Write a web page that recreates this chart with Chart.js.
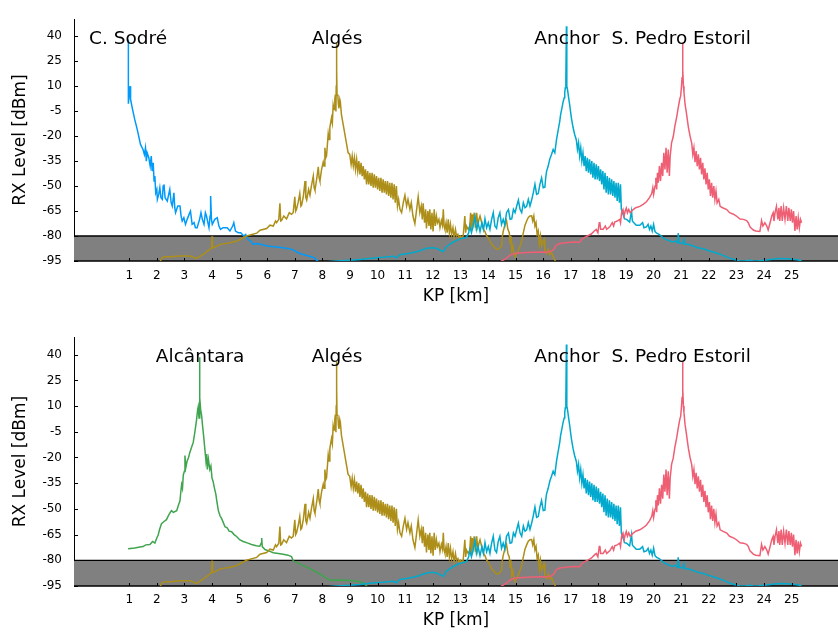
<!DOCTYPE html>
<html>
<head>
<meta charset="utf-8">
<title>RX Level vs KP</title>
<script src="https://cdn.jsdelivr.net/npm/chart.js@4.4.1/dist/chart.umd.min.js"></script>
<style>
  body { margin: 0; background: #fff; }
  .panel { position: absolute; left: 0; width: 838px; }
  #panelTop { top: 0; height: 318px; }
  #panelBottom { top: 318px; height: 317px; }
</style>
</head>
<body>
<div class="panel" id="panelTop"><canvas id="chartTop" width="838" height="318"></canvas></div>
<div class="panel" id="panelBottom"><canvas id="chartBottom" width="838" height="317"></canvas></div>
<script>
(function() {
  'use strict';

  // Axis ticks
  const kmTicks = [1, 2, 3, 4, 5, 6, 7, 8, 9, 10, 11, 12, 13, 14, 15, 16, 17, 18, 19, 20, 21, 22, 23, 24, 25];
  const dbmTicks = [-95, -80, -65, -50, -35, -20, -5, 10, 25, 40];

  // Sensitivity band (grey area)
  const bandTop = -80;
  const bandBottom = -95;

  // Station labels
  const topStations = ['C. Sodré', 'Algés', 'Anchor', 'S. Pedro Estoril'];
  const topStationKm = [0.96, 8.53, 16.86, 21.0];
  const bottomStations = ['Alcântara', 'Algés', 'Anchor', 'S. Pedro Estoril'];
  const bottomStationKm = [3.57, 8.53, 16.86, 21.0];

  // [KP km, RX dBm]
  const cSodre = [[0.97,38],[0.97,-0.5],[1.0,5],[1.03,10],[1.05,2],[1.11,-3],[1.2,-10],[1.29,-16],[1.41,-25],[1.5,-28],[1.55,-31],[1.59,-27],[1.62,-35],[1.65,-30],[1.71,-33],[1.76,-38],[1.8,-32],[1.83,-41],[1.87,-36],[1.9,-47],[1.93,-44],[1.96,-54],[2.0,-52],[2.02,-58],[2.07,-55],[2.11,-51],[2.15,-57],[2.2,-58],[2.23,-50],[2.26,-49],[2.3,-57],[2.38,-59],[2.43,-55],[2.47,-52],[2.52,-60],[2.56,-62],[2.62,-54],[2.65,-63],[2.68,-66],[2.76,-62],[2.84,-62],[2.88,-68],[2.92,-71],[2.98,-69],[3.04,-73],[3.1,-70],[3.17,-67],[3.22,-65],[3.28,-73],[3.35,-72],[3.4,-75],[3.46,-75],[3.55,-70],[3.6,-66],[3.65,-70],[3.71,-73],[3.76,-66],[3.8,-68],[3.85,-72],[3.89,-75],[3.93,-68],[3.95,-56],[3.98,-70],[4.01,-73],[4.1,-70],[4.19,-69],[4.25,-74],[4.31,-76],[4.4,-75],[4.55,-75],[4.65,-77],[4.75,-74],[4.79,-72],[4.85,-77],[4.95,-78],[5.04,-78],[5.15,-80],[5.22,-79],[5.3,-82],[5.4,-83],[5.49,-85],[5.6,-84.5],[5.76,-85],[6.0,-86],[6.24,-86.5],[6.58,-87],[6.9,-88],[7.18,-90.5],[7.5,-92],[7.7,-93],[7.85,-95.4],[7.95,-96]];

  const alcantara = [[0.96,-73.3],[1.2,-72.8],[1.39,-72.2],[1.5,-72],[1.6,-71],[1.75,-70.8],[1.85,-69],[1.93,-69.9],[2.0,-67],[2.05,-65.2],[2.1,-62],[2.17,-58.6],[2.25,-57.5],[2.35,-56.3],[2.45,-53],[2.53,-51],[2.6,-52],[2.72,-51],[2.78,-48],[2.84,-45.3],[2.87,-40],[2.9,-35.9],[2.93,-38],[2.96,-30.2],[3.0,-28],[3.02,-18.8],[3.05,-26],[3.1,-22],[3.15,-20],[3.2,-16.9],[3.26,-14],[3.32,-11.2],[3.38,-5],[3.44,2],[3.48,8],[3.5,9.6],[3.53,3],[3.55,38.5],[3.56,15],[3.59,7.7],[3.62,5],[3.66,-1.8],[3.7,-8],[3.74,-15],[3.78,-22],[3.81,-18],[3.83,-27],[3.87,-21],[3.92,-27],[3.96,-25],[4.0,-32],[4.04,-34],[4.09,-38],[4.14,-41.5],[4.18,-46],[4.23,-51],[4.29,-54],[4.35,-55.7],[4.41,-58],[4.47,-60.4],[4.55,-61],[4.62,-63],[4.71,-63.3],[4.8,-65],[4.89,-66.1],[5.0,-68],[5.13,-69],[5.3,-70],[5.43,-70.8],[5.6,-71.5],[5.73,-71.8],[5.78,-70],[5.8,-67],[5.82,-72],[5.92,-73.7],[6.1,-74.8],[6.22,-75.6],[6.4,-76],[6.58,-76.5],[6.75,-77],[6.88,-77.8],[6.94,-80.3],[7.1,-81.5],[7.31,-83.1],[7.5,-84.5],[7.67,-85.9],[7.91,-88],[8.1,-90],[8.27,-91.6],[8.5,-91.5],[8.87,-91.6],[9.1,-92],[9.36,-92.5],[9.5,-93.5],[9.6,-95],[9.7,-96]];

  const alges = [[2.11,-95.5],[2.2,-93],[2.29,-92.5],[2.5,-92.5],[2.84,-92],[3.2,-92],[3.44,-93.5],[3.68,-91],[3.92,-88],[3.99,-87],[4.0,-80.2],[4.02,-87],[4.06,-87],[4.3,-85],[4.65,-84],[4.9,-83],[5.25,-80],[5.62,-78.3],[5.74,-76.5],[5.98,-75.5],[6.1,-73.5],[6.22,-74],[6.3,-71],[6.34,-72],[6.42,-70],[6.46,-60.3],[6.49,-71],[6.52,-70.7],[6.6,-68],[6.7,-69.7],[6.8,-66],[6.88,-67],[6.94,-66],[7.0,-56.4],[7.03,-65],[7.06,-64],[7.12,-60],[7.18,-54.5],[7.22,-62],[7.25,-61.3],[7.31,-56],[7.37,-47],[7.4,-57],[7.43,-58.4],[7.5,-52],[7.55,-55.5],[7.6,-50],[7.67,-44],[7.7,-51],[7.73,-52.6],[7.8,-45],[7.85,-38.4],[7.88,-45],[7.91,-47],[7.97,-40],[8.03,-35.6],[8.06,-38],[8.09,-27],[8.12,-33],[8.15,-31.8],[8.21,-18.5],[8.24,-22],[8.27,-14.7],[8.33,-9],[8.36,-12],[8.39,-1.4],[8.42,-4],[8.45,2.4],[8.47,5],[8.49,-5.2],[8.5,10],[8.51,36],[8.52,20],[8.53,5],[8.56,4.3],[8.58,-1],[8.6,-3.3],[8.63,2],[8.65,0.5],[8.69,-7.1],[8.75,-12.8],[8.85,-22.3],[8.93,-29.9],[8.99,-31],[9.04,-37],[9.08,-32],[9.12,-38],[9.16,-33],[9.2,-40],[9.24,-34],[9.28,-41],[9.32,-35],[9.36,-43],[9.4,-36],[9.44,-44],[9.48,-38],[9.52,-46],[9.56,-40],[9.6,-49],[9.64,-41],[9.68,-49],[9.72,-42],[9.76,-50],[9.8,-42],[9.84,-51],[9.88,-43],[9.92,-51],[9.96,-44],[10.0,-52],[10.04,-45],[10.08,-53],[10.12,-45],[10.16,-54],[10.2,-46],[10.24,-54],[10.28,-47],[10.32,-55],[10.36,-47],[10.4,-56],[10.44,-48],[10.48,-57],[10.52,-48],[10.56,-58],[10.6,-49],[10.64,-60],[10.68,-50],[10.72,-62],[10.76,-58],[10.81,-64],[10.87,-66],[10.93,-60],[10.99,-55.5],[11.05,-62],[11.1,-58],[11.17,-64],[11.22,-60],[11.28,-68],[11.35,-72.6],[11.4,-66],[11.47,-56.4],[11.53,-66],[11.58,-62],[11.62,-70],[11.65,-60.3],[11.7,-72],[11.74,-64],[11.77,-75.4],[11.82,-65],[11.86,-74],[11.89,-64],[11.93,-76],[11.97,-66],[12.01,-77.3],[12.05,-64],[12.09,-74],[12.13,-68],[12.17,-72],[12.22,-70],[12.26,-75],[12.31,-70.7],[12.35,-73.5],[12.38,-64],[12.41,-74],[12.44,-76],[12.48,-72],[12.52,-78],[12.56,-70],[12.6,-78],[12.64,-73],[12.68,-79],[12.73,-75],[12.77,-81],[12.82,-76],[12.86,-80],[12.91,-79],[12.95,-81],[13.0,-80],[13.05,-81],[13.1,-80],[13.16,-68],[13.19,-78],[13.22,-74],[13.28,-76],[13.34,-74],[13.37,-66],[13.4,-77],[13.43,-67],[13.46,-72],[13.5,-66],[13.54,-75],[13.59,-66],[13.63,-74],[13.67,-70],[13.71,-68],[13.77,-72],[13.83,-76],[13.89,-77.3],[13.95,-80],[14.01,-81],[14.07,-83],[14.13,-85],[14.19,-86],[14.25,-87],[14.31,-88],[14.37,-88],[14.43,-87],[14.49,-86],[14.52,-80],[14.55,-77.3],[14.6,-74],[14.67,-70.7],[14.72,-76],[14.77,-78],[14.8,-84],[14.83,-80],[14.86,-88.7],[14.9,-86],[14.94,-91],[14.98,-92.5],[15.04,-90],[15.1,-88.7],[15.16,-86],[15.22,-83],[15.28,-78],[15.34,-73.5],[15.4,-71],[15.46,-68.9],[15.52,-68],[15.58,-67.9],[15.62,-71],[15.66,-68],[15.7,-74],[15.74,-72],[15.78,-79],[15.82,-77],[15.86,-85],[15.9,-80],[15.94,-86],[15.98,-84],[16.03,-82],[16.06,-89],[16.12,-90.6],[16.18,-88],[16.24,-91],[16.3,-90],[16.36,-92.5],[16.42,-94.4],[16.48,-96.3],[16.55,-97]];

  const anchor = [[7.9,-96],[8.15,-95.5],[8.5,-95],[9.0,-94.5],[9.36,-94.1],[9.8,-93.3],[10.2,-92.8],[10.57,-92.2],[10.69,-93.1],[10.75,-92],[10.81,-91.2],[11.17,-90.3],[11.5,-89],[11.77,-87.4],[12.01,-87],[12.15,-87.5],[12.25,-88.4],[12.38,-89.3],[12.49,-86.4],[12.74,-83.6],[12.98,-81.7],[13.22,-80.8],[13.3,-78],[13.34,-74],[13.4,-78],[13.46,-74],[13.53,-68.4],[13.58,-76],[13.64,-72],[13.71,-77.3],[13.78,-72],[13.84,-76],[13.89,-69.7],[13.95,-75],[14.01,-72],[14.07,-76],[14.13,-70],[14.19,-66],[14.25,-74],[14.31,-75.4],[14.37,-69],[14.43,-66],[14.49,-73],[14.55,-70],[14.61,-73.5],[14.67,-66],[14.74,-64.1],[14.8,-70],[14.86,-69.7],[14.92,-64],[14.98,-66],[15.04,-62],[15.1,-58.4],[15.16,-64],[15.22,-66],[15.28,-60],[15.34,-63],[15.4,-62.2],[15.46,-58],[15.52,-62],[15.58,-58.4],[15.64,-54],[15.7,-48.9],[15.76,-55],[15.82,-54.5],[15.88,-49],[15.94,-45.1],[16.0,-51],[16.06,-50.7],[16.09,-45],[16.12,-41.3],[16.18,-38],[16.24,-33.7],[16.3,-31],[16.36,-28],[16.42,-30],[16.48,-22.3],[16.54,-16.6],[16.6,-11],[16.63,-7.1],[16.68,-3],[16.72,0.5],[16.76,3],[16.78,6.2],[16.8,9],[16.82,13.8],[16.84,46],[16.85,20],[16.86,10],[16.88,8],[16.91,4.3],[16.96,-1.4],[17.02,-9],[17.08,-14.7],[17.14,-19],[17.2,-22.3],[17.24,-28],[17.28,-24],[17.32,-32],[17.36,-27],[17.4,-35],[17.44,-30],[17.48,-38],[17.52,-32],[17.56,-41],[17.6,-33],[17.64,-42],[17.68,-34],[17.72,-43],[17.76,-35],[17.8,-45],[17.84,-36],[17.88,-46],[17.92,-37],[17.96,-46],[18.0,-38],[18.04,-47],[18.08,-40],[18.12,-49],[18.16,-41],[18.2,-52],[18.24,-42],[18.28,-54],[18.32,-44],[18.36,-55],[18.4,-45],[18.44,-55],[18.48,-46],[18.52,-56],[18.56,-47],[18.6,-57],[18.64,-48],[18.68,-59],[18.72,-48],[18.76,-60],[18.8,-49],[18.83,-64],[18.89,-67],[18.95,-69.7],[19.02,-70],[19.13,-71.6],[19.2,-65],[19.23,-71],[19.26,-71.6],[19.37,-73.5],[19.5,-73.5],[19.6,-72],[19.65,-75],[19.74,-74.5],[19.8,-73],[19.85,-76],[19.9,-74],[19.95,-77],[20.0,-73],[20.05,-77.3],[20.11,-78.3],[20.2,-79],[20.35,-81.1],[20.45,-82],[20.59,-83],[20.7,-83.5],[20.8,-83],[20.87,-84],[20.89,-78.3],[20.92,-84],[20.95,-84],[21.05,-84.5],[21.1,-82],[21.13,-85],[21.25,-85],[21.43,-86],[21.6,-87],[21.79,-87.7],[22.0,-88.8],[22.15,-89.6],[22.35,-90.6],[22.52,-91.6],[22.7,-93],[22.88,-94],[23.12,-94.8],[23.3,-95],[23.5,-94.6],[23.6,-95],[23.8,-94.8],[24.09,-94.4],[24.3,-94],[24.57,-93.5],[24.8,-93.7],[25.06,-94],[25.2,-94.3],[25.36,-94.8]];

  const sPedro = [[14.43,-95.6],[14.55,-94.5],[14.67,-93.3],[14.8,-91.5],[14.92,-90.6],[15.1,-90.2],[15.28,-90],[15.6,-89.8],[15.88,-89.6],[16.12,-89.8],[16.3,-89],[16.36,-88.4],[16.48,-85.4],[16.6,-84.5],[16.8,-84],[17.08,-83.6],[17.32,-83.8],[17.4,-82],[17.5,-80.8],[17.6,-80],[17.74,-78.8],[17.85,-77],[17.92,-76],[17.98,-78],[18.03,-72],[18.05,-71.6],[18.08,-76],[18.17,-76],[18.25,-74],[18.3,-76],[18.41,-74.5],[18.5,-72],[18.55,-74],[18.59,-71.6],[18.68,-71],[18.77,-70],[18.8,-72],[18.84,-66],[18.89,-64.1],[18.93,-68],[18.97,-65],[19.01,-63.2],[19.05,-66],[19.1,-64],[19.15,-66],[19.26,-64.1],[19.35,-63],[19.5,-62.2],[19.62,-61],[19.74,-59.4],[19.85,-57],[19.93,-54.5],[19.97,-51],[20.0,-55],[20.05,-50],[20.08,-45],[20.11,-52],[20.14,-42],[20.17,-48],[20.21,-38],[20.25,-47],[20.29,-36],[20.33,-44],[20.37,-30],[20.41,-40],[20.45,-27],[20.49,-42],[20.53,-28],[20.57,-44],[20.6,-32],[20.65,-24],[20.71,-20.4],[20.77,-14],[20.83,-9],[20.89,-3],[20.95,2.4],[20.98,4],[21.01,10],[21.03,15],[21.05,36],[21.06,20],[21.08,10],[21.1,6.2],[21.14,-1],[21.18,-5.2],[21.22,-10],[21.26,-14.7],[21.32,-20],[21.38,-24.2],[21.42,-31],[21.46,-27],[21.5,-35.6],[21.54,-29],[21.58,-38],[21.62,-31],[21.66,-40],[21.7,-33],[21.74,-43],[21.78,-36],[21.82,-46],[21.86,-39.4],[21.9,-49],[21.94,-42],[21.98,-52],[22.02,-46],[22.06,-56],[22.1,-48],[22.14,-57],[22.18,-50],[22.22,-58],[22.26,-53],[22.3,-60],[22.36,-58],[22.41,-62.2],[22.5,-63],[22.65,-64.1],[22.75,-66],[22.89,-66.9],[23.0,-68],[23.13,-69.8],[23.25,-70],[23.37,-70.7],[23.43,-72],[23.49,-74.5],[23.61,-76.4],[23.7,-77],[23.85,-77.3],[23.88,-74],[23.91,-70.7],[23.96,-74],[24.03,-72],[24.1,-74],[24.15,-76.4],[24.22,-72],[24.28,-68],[24.33,-66],[24.36,-71],[24.4,-66],[24.45,-62.2],[24.5,-70],[24.54,-63],[24.57,-71],[24.62,-62],[24.66,-71],[24.71,-63],[24.76,-70],[24.81,-62],[24.86,-71],[24.9,-63],[24.95,-71],[24.99,-64],[25.03,-72],[25.07,-65],[25.12,-77],[25.16,-68],[25.2,-76],[25.24,-69],[25.28,-75],[25.32,-70],[25.36,-72]];

  // Series colours
  const colors = {
    blue: '#009AFA',
    green: '#3EA44E',
    gold: '#AC8E18',
    cyan: '#00A9CD',
    pink: '#EE5F74'
  };

  const FONT = 'DejaVu Sans';

  function toPoints(pairs) {
    return pairs.map(p => ({ x: p[0], y: p[1] }));
  }

  function series(pairs, color, idx, total) {
    return {
      data: toPoints(pairs),
      borderColor: color,
      borderWidth: 1.5,
      pointRadius: 0,
      fill: false,
      tension: 0,
      order: total - idx // later series drawn on top
    };
  }

  // grey band + axis decorations + station names
  function makeDecor(names, kms) {
    return {
      id: 'decor',
      beforeDatasetsDraw(chart) {
        const ctx = chart.ctx;
        const a = chart.chartArea;
        const y = chart.scales.y;
        const y1 = y.getPixelForValue(bandTop);
        const y2 = y.getPixelForValue(bandBottom);
        ctx.save();
        ctx.fillStyle = '#808080';
        ctx.fillRect(a.left, y1, a.right - a.left, y2 - y1);
        ctx.strokeStyle = '#000';
        ctx.lineWidth = 1.3;
        ctx.beginPath();
        ctx.moveTo(a.left, y1); ctx.lineTo(a.right, y1);
        ctx.moveTo(a.left, y2); ctx.lineTo(a.right, y2);
        ctx.stroke();
        ctx.restore();
      },
      afterDatasetsDraw(chart) {
        const ctx = chart.ctx;
        const a = chart.chartArea;
        const x = chart.scales.x;
        const y = chart.scales.y;
        ctx.save();
        // small inner tick marks
        ctx.strokeStyle = '#000';
        ctx.lineWidth = 1;
        ctx.beginPath();
        dbmTicks.forEach(v => {
          const py = Math.round(y.getPixelForValue(v)) + 0.5;
          ctx.moveTo(a.left, py); ctx.lineTo(a.left + 4, py);
        });
        kmTicks.forEach(v => {
          const px = Math.round(x.getPixelForValue(v)) + 0.5;
          ctx.moveTo(px, a.bottom); ctx.lineTo(px, a.bottom - 3);
        });
        ctx.stroke();
        // station names
        ctx.fillStyle = '#000';
        ctx.font = '18.5px "' + FONT + '"';
        ctx.textAlign = 'center';
        ctx.textBaseline = 'alphabetic';
        const base = y.getPixelForValue(40) + 7.5;
        names.forEach((n, i) => {
          ctx.fillText(n, x.getPixelForValue(kms[i]), base);
        });
        ctx.restore();
      }
    };
  }

  function createChart(id, datasets, names, kms, opts) {
    const ctx = document.getElementById(id);
    return new Chart(ctx, {
      type: 'line',
      data: { datasets: datasets },
      options: {
        responsive: false,
        animation: false,
        devicePixelRatio: 1,
        layout: { padding: { top: opts.top, left: 0, right: 0, bottom: 0 } },
        plugins: {
          legend: { display: false },
          tooltip: { enabled: false }
        },
        scales: {
          x: {
            type: 'linear',
            min: -1,
            max: 26.68,
            afterBuildTicks: s => { s.ticks = kmTicks.map(v => ({ value: v })); },
            afterFit: s => { s.height = opts.xHeight; },
            ticks: {
              autoSkip: false,
              maxRotation: 0,
              color: '#000',
              padding: opts.xTickPad,
              font: { family: FONT, size: 12 }
            },
            grid: { display: false, drawTicks: false },
            border: { display: false },
            title: {
              display: true,
              text: 'KP [km]',
              color: '#000',
              font: { family: FONT, size: 17 },
              padding: { top: 0, bottom: opts.xTitlePad }
            }
          },
          y: {
            type: 'linear',
            min: -95,
            max: 50.2,
            afterBuildTicks: s => { s.ticks = dbmTicks.map(v => ({ value: v })); },
            afterFit: s => { s.width = 74; },
            ticks: {
              autoSkip: false,
              color: '#000',
              padding: 12,
              font: { family: FONT, size: 12 }
            },
            grid: { display: false, drawTicks: false },
            border: { display: true, color: '#000', width: 1 },
            title: {
              display: true,
              text: 'RX Level [dBm]',
              color: '#000',
              font: { family: FONT, size: 17 },
              padding: { top: 10, bottom: 0 }
            }
          }
        }
      },
      plugins: [makeDecor(names, kms)]
    });
  }

  const topSets = [
    series(cSodre, colors.blue, 0, 4),
    series(alges, colors.gold, 1, 4),
    series(anchor, colors.cyan, 2, 4),
    series(sPedro, colors.pink, 3, 4)
  ];
  const bottomSets = [
    series(alcantara, colors.green, 0, 4),
    series(alges, colors.gold, 1, 4),
    series(anchor, colors.cyan, 2, 4),
    series(sPedro, colors.pink, 3, 4)
  ];

  createChart('chartTop', topSets, topStations, topStationKm,
    { top: 6, xHeight: 57, xTickPad: 8, xTitlePad: 11 });
  createChart('chartBottom', bottomSets, bottomStations, bottomStationKm,
    { top: 12, xHeight: 49, xTickPad: 7, xTitlePad: 4 });
})();
</script>
</body>
</html>
